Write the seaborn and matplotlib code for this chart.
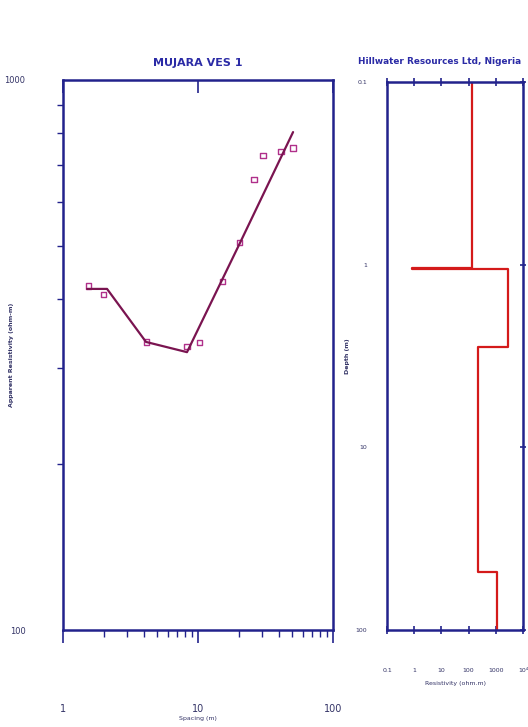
import numpy as np
import pandas as pd
import matplotlib
matplotlib.use("Agg")
import matplotlib.pyplot as plt
import seaborn as sns
from matplotlib.ticker import LogLocator, NullFormatter, FixedLocator, FixedFormatter

# ---- data ----
spacing = [1.55, 2.0, 4.15, 8.3, 10.3, 15.1, 20.4, 26.0, 30.3, 41.2, 50.6]
app_res = [422, 408, 334, 328, 333, 430, 506, 660, 728, 742, 752]

model_spacing = [1.51, 2.12, 4.12, 8.29, 20.5, 50.6]
model_res = [417, 417, 334, 320, 506, 804]

layer_res = [129, 0.84, 2800, 215, 1090]
layer_top = [0.1, 1.04, 1.06, 2.83, 48.3]
max_depth = 100

x_ticks_left = [1, 10, 100]
x_labels_left = ["1", "10", "100"]
y_ticks_left = [100, 1000]
y_labels_left = ["100", "1000"]
depth_ticks = [0.1, 1, 10, 100]
depth_labels = ["0.1", "1", "10", "100"]
res_ticks = [0.1, 1, 10, 100, 1000, 10000]
res_labels = ["0.1", "1", "10", "100", "1000", "10⁴"]

sns.set_theme(style="white")
plt.rcParams['font.family'] = ['DejaVu Sans']

NAVY = "#22228c"
TITLE = "#2b2ba6"
LINE = "#7a1450"
MARK = "#b0308a"
RED = "#d41a1a"
TXT = "#333366"

fig = plt.figure(figsize=(5.28, 7.27), dpi=100)
ax1 = fig.add_axes([0.1193, 0.1334, 0.5114, 0.7566])
ax2 = fig.add_axes([0.7330, 0.1334, 0.2576, 0.7538])

# ---- left panel ----
df_obs = pd.DataFrame({"spacing": spacing, "res": app_res})
df_mod = pd.DataFrame({"spacing": model_spacing, "res": model_res})
sns.lineplot(data=df_mod, x="spacing", y="res", ax=ax1, color=LINE, lw=1.6,
             sort=False, estimator=None)
sns.scatterplot(data=df_obs, x="spacing", y="res", ax=ax1, marker="s", s=14,
                facecolor="none", edgecolor=MARK, linewidth=1.0)
ax1.set_xscale("log")
ax1.set_yscale("log")
ax1.set_xlim(1, 100)
ax1.set_ylim(100, 1000)
ax1.xaxis.set_major_locator(FixedLocator(x_ticks_left))
ax1.xaxis.set_major_formatter(FixedFormatter(x_labels_left))
ax1.yaxis.set_major_locator(FixedLocator(y_ticks_left))
ax1.yaxis.set_major_formatter(FixedFormatter(y_labels_left))
for a in (ax1.xaxis, ax1.yaxis):
    a.set_minor_locator(LogLocator(base=10, subs=np.arange(2, 10)))
    a.set_minor_formatter(NullFormatter())
ax1.tick_params(axis="x", which="major", direction="out", length=9, width=1.2,
                color=NAVY, labelsize=7, labelcolor=TXT, pad=44,
                top=False, bottom=True)
ax1.tick_params(axis="x", which="minor", direction="out", length=5, width=1.0,
                color=NAVY, top=False, bottom=True)
ax1.tick_params(axis="y", which="major", direction="out", length=5, width=1.2,
                color=NAVY, labelsize=6, labelcolor=TXT, pad=22)
ax1.tick_params(axis="y", which="minor", direction="out", length=4, width=1.0,
                color=NAVY, left=True)
sec = ax1.secondary_xaxis("top")
sec.set_xscale("log")
sec.xaxis.set_major_locator(FixedLocator(x_ticks_left))
sec.xaxis.set_minor_locator(FixedLocator([]))
sec.tick_params(axis="x", direction="in", length=9, width=1.2, color=NAVY,
                labeltop=False)
sec.spines["top"].set_visible(False)
ax1.set_title("MUJARA VES 1", fontsize=8, fontweight="bold", color=TITLE, pad=10)
ax1.set_xlabel("Spacing (m)", fontsize=4.5, color=TXT, labelpad=2)
ax1.set_ylabel("")
fig.text(12 / 528, 1 - 355 / 727, "Apparent Resistivity (ohm-m)", rotation=90,
         ha="center", va="center", fontsize=4.5, color=TXT, fontweight="bold")
for s in ax1.spines.values():
    s.set_color(NAVY)
    s.set_linewidth(1.8)

# ---- right panel ----
xs, ys = [], []
bottoms = layer_top[1:] + [max_depth]
for r, t, b in zip(layer_res, layer_top, bottoms):
    xs += [r, r]
    ys += [t, b]
df_layers = pd.DataFrame({"res": xs, "depth": ys})
sns.lineplot(data=df_layers, x="res", y="depth", ax=ax2, color=RED, lw=1.6,
             sort=False, estimator=None)
ax2.set_xscale("log")
ax2.set_yscale("log")
ax2.set_xlim(0.1, 10000)
ax2.set_ylim(100, 0.1)
ax2.xaxis.set_major_locator(FixedLocator(res_ticks))
ax2.xaxis.set_major_formatter(FixedFormatter(res_labels))
ax2.yaxis.set_major_locator(FixedLocator(depth_ticks))
ax2.yaxis.set_major_formatter(FixedFormatter(depth_labels))
for a in (ax2.xaxis, ax2.yaxis):
    a.set_minor_locator(LogLocator(base=10, subs=np.arange(2, 10)))
    a.set_minor_formatter(NullFormatter())
ax2.tick_params(axis="x", which="major", direction="inout", length=6, width=1.2,
                color=NAVY, labelsize=4.5, labelcolor=TXT, pad=24,
                top=True, bottom=True)
ax2.tick_params(axis="x", which="minor", direction="out", length=3, width=1.0,
                color=NAVY, top=False)
ax2.tick_params(axis="y", which="major", direction="inout", length=5, width=1.2,
                color=NAVY, labelsize=4.5, labelcolor=TXT, pad=12,
                right=True)
ax2.tick_params(axis="y", which="minor", direction="inout", length=3, width=1.0,
                color=NAVY, right=False)
fig.text(440 / 528, 1 - 62 / 727, "Hillwater Resources Ltd, Nigeria",
         ha="center", va="center", fontsize=6.4, fontweight="bold", color=TITLE)
ax2.set_xlabel("Resistivity (ohm.m)", fontsize=4.5, color=TXT, labelpad=6)
ax2.set_ylabel("Depth (m)", fontsize=4.5, color=TXT, fontweight="bold",
               labelpad=4)
for s in ax2.spines.values():
    s.set_color(NAVY)
    s.set_linewidth(1.8)

fig.savefig("out.png", dpi=100, facecolor="white")
